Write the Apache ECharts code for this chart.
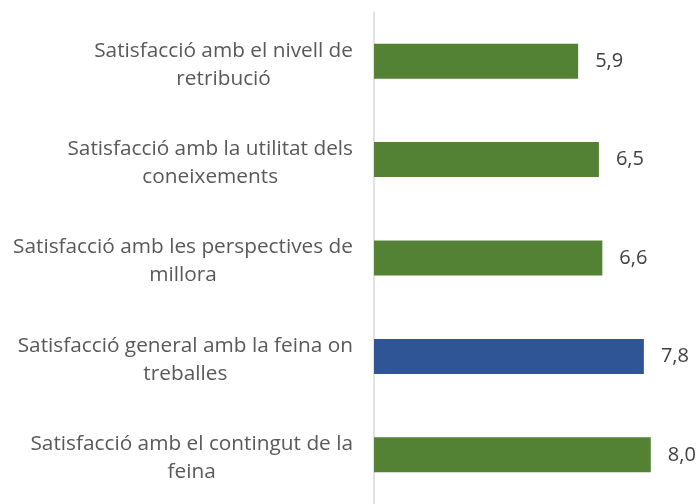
<!DOCTYPE html>
<html><head><meta charset="utf-8">
<script src="https://cdn.jsdelivr.net/npm/echarts@6/dist/echarts.min.js"></script>
<style>html,body{margin:0;padding:0;background:#fff}#c{width:698px;height:504px}</style>
</head><body><div id="c"></div>
<script>
var categories = [
  "Satisfacció amb el nivell de\nretribució",
  "Satisfacció amb la utilitat dels\nconeixements",
  "Satisfacció amb les perspectives de\nmillora",
  "Satisfacció general amb la feina on\ntreballes",
  "Satisfacció amb el contingut de la\nfeina"
];
var values = [5.9, 6.5, 6.6, 7.8, 8.0];
var highlightIndex = 3;
var green = '#548235', blue = '#2F5597';

var chart = echarts.init(document.getElementById('c'), null, {renderer: 'canvas'});
chart.setOption({
  animation: false,
  grid: {left: 374, top: 12, width: 311.4, height: 500, containLabel: false},
  xAxis: {type: 'value', min: 0, max: 9, show: false, splitLine: {show: false}},
  yAxis: {
    type: 'category', data: categories, inverse: true,
    axisLine: {show: true, lineStyle: {color: '#d9d9d9', width: 1.5}},
    axisTick: {show: false},
    axisLabel: {
      margin: 21, align: 'right', padding: [7, 0, 0, 0],
      formatter: function (v) {
        return v.split('\n').map(function (s) { return '{a|' + s + '}'; }).join('\n');
      },
      rich: {a: {align: 'center', fontFamily: 'Open Sans', fontSize: 20.8, lineHeight: 28, color: '#595959'}}
    }
  },
  series: [{
    type: 'bar', barWidth: 35,
    data: values.map(function (v, i) {
      return {value: v, itemStyle: {color: i === highlightIndex ? blue : green}};
    }),
    label: {
      show: true, position: 'right', distance: 17,
      fontFamily: 'Open Sans', fontSize: 20, color: '#404040',
      formatter: function (p) { return p.value.toFixed(1).replace('.', ','); }
    }
  }]
});
</script></body></html>
